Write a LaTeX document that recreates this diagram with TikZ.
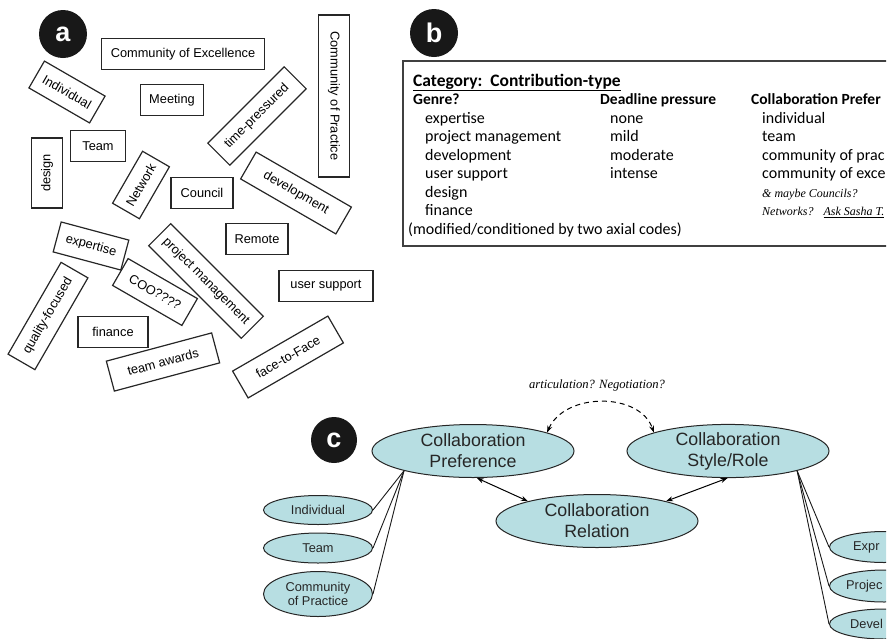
\documentclass[tikz,border=0pt]{standalone}
\usepackage{fontspec}
\setmainfont{Liberation Sans}
\newfontfamily\calfont{Carlito}
\newfontfamily\handfont{Liberation Serif}
\usetikzlibrary{shapes.geometric,arrows.meta}

\definecolor{codefill}{RGB}{183,222,226}
\definecolor{badgegray}{RGB}{24,24,24}

\tikzset{
  card/.style={draw=black!85, line width=1.2pt, inner sep=0pt, minimum height=31pt,
    font=\fontsize{12.8}{14}\selectfont},
  badge/.style={circle, fill=badgegray, text=white, inner sep=0pt, minimum size=48pt,
    font=\fontsize{27}{27}\selectfont\bfseries},
  bline/.style={anchor=base west, inner sep=0pt, font=\calfont\fontsize{16}{18}\selectfont},
  bhead/.style={bline, font=\calfont\bfseries\fontsize{15.5}{18}\selectfont},
  hand/.style={anchor=base west, inner sep=0pt, font=\handfont\itshape\fontsize{12}{14}\selectfont},
  bigcode/.style={ellipse, draw=black!85, line width=1pt, fill=codefill, inner sep=0pt,
    minimum width=202pt, minimum height=53pt, align=center, text=black!85,
    font=\fontsize{17.8}{21}\selectfont},
  smallcode/.style={ellipse, draw=black!85, line width=1pt, fill=codefill, inner sep=0pt,
    minimum width=109pt, minimum height=30pt, align=center, text=black!85,
    font=\fontsize{12.8}{14.3}\selectfont},
  cuttext/.style={anchor=west, inner sep=0pt, text=black!85, font=\fontsize{12.8}{14}\selectfont},
  link/.style={line width=0.9pt, black!90},
  twoway/.style={line width=1pt, {Stealth[length=7pt,width=5pt]}-{Stealth[length=7pt,width=5pt]}}
}

\begin{document}
\begin{tikzpicture}[x=1pt,y=-1pt]

\useasboundingbox (0,0) rectangle (889,638);
\clip (0,0) rectangle (886,638);

% panel a: the loose cards
\node[badge] (tag a) at (63,34) {a};

\node[card, minimum width=163] (excellence) at (183,54) {Community of Excellence};
\node[card, minimum width=70, rotate=-30] (individual) at (67,92) {Individual};
\node[card, minimum width=63] (meeting) at (172,100) {Meeting};
\node[card, minimum width=108, rotate=45] (timepressured) at (257,116) {time-pressured};
\node[card, minimum width=162, rotate=-90] (practice) at (334,96) {Community of Practice};
\node[card, minimum width=55] (team) at (98,146) {Team};
\node[card, minimum width=70, rotate=90] (design) at (47,173) {design};
\node[card, minimum width=60, rotate=60] (network) at (141,185) {Network};
\node[card, minimum width=62] (council) at (202,193) {Council};
\node[card, minimum width=110, rotate=-30] (development) at (296,193) {development};
\node[card, minimum width=70, rotate=-15] (expertise) at (91,246) {expertise};
\node[card, minimum width=62] (remote) at (257,239) {Remote};
\node[card, minimum width=131, rotate=-45] (projectmgmt) at (206,281) {project management};
\node[card, minimum width=94] (usersupport) at (326,286) {user support};
\node[card, minimum width=106, rotate=60] (quality) at (48,316) {quality-focused};
\node[card, minimum width=80, rotate=-30] (coo) at (155,292) {COO????};
\node[card, minimum width=70] (finance) at (113,332) {finance};
\node[card, minimum width=109, rotate=15] (awards) at (163,362) {team awards};
\node[card, minimum width=110, rotate=30] (facetoface) at (288,357) {face-to-Face};

% panel b: the category sheet
\node[badge] (tag b) at (434,33) {b};
\draw[line width=1.4pt, black!75] (403,61) rectangle (900,246);

\node[bhead, font=\calfont\bfseries\fontsize{17.5}{19}\selectfont] (category) at (413,86)
  {\underline{Category:\ \ Contribution-type}};

\node[bhead] (genre) at (413,104.5) {Genre?};
\node[bline] (genre 1) at (425,123) {expertise};
\node[bline] (genre 2) at (425,141.5) {project management};
\node[bline] (genre 3) at (425,160) {development};
\node[bline] (genre 4) at (425,178.5) {user support};
\node[bline] (genre 5) at (425,197) {design};
\node[bline] (genre 6) at (425,215.5) {finance};
\node[bline] (modified) at (408,234) {(modified/conditioned by two axial codes)};

\node[bhead] (deadline) at (600,104.5) {Deadline pressure};
\node[bline] (deadline 1) at (610,123) {none};
\node[bline] (deadline 2) at (610,141.5) {mild};
\node[bline] (deadline 3) at (610,160) {moderate};
\node[bline] (deadline 4) at (610,178.5) {intense};

\node[bhead] (prefer) at (751,104.5) {Collaboration Prefer};
\node[bline] (prefer 1) at (762,123) {individual};
\node[bline] (prefer 2) at (762,141.5) {team};
\node[bline] (prefer 3) at (762,160) {community of prac};
\node[bline] (prefer 4) at (762,178.5) {community of exce};
\node[hand] (note 1) at (762,197) {\& maybe Councils?};
\node[hand] (note 2) at (762,215.5) {Networks?\hspace{10pt}\underline{Ask Sasha T.}};

% panel c: the axial codes
\node[badge, minimum size=46pt] (tag c) at (334,440) {c};

\node[bigcode] (pref) at (473,451) {Collaboration\\Preference};
\node[bigcode] (style) at (728,451) {Collaboration\\Style/Role};
\node[bigcode] (rel) at (597,521) {Collaboration\\Relation};

\node[smallcode, minimum height=29pt] (c indiv) at (318,510) {Individual};
\node[smallcode] (c team) at (318,548) {Team};
\node[smallcode, minimum height=45pt] (c cop) at (318,594) {Community\\of Practice};

\node[smallcode, minimum height=31pt] (c expr) at (884,547) {};
\node[smallcode, minimum height=32pt] (c proj) at (884,586) {};
\node[smallcode, minimum height=30pt] (c devel) at (884,624) {};
\node[cuttext] (expr text) at (853,547) {Expr};
\node[cuttext] (proj text) at (846,586) {Projec};
\node[cuttext] (devel text) at (850,624) {Devel};

\draw[link] (pref.196) -- (c indiv.east);
\draw[link] (pref.196) -- (c team.east);
\draw[link] (pref.196) -- (c cop.east);

\draw[link] (style.-16) -- (c expr.west);
\draw[link] (style.-16) -- (c proj.west);
\draw[link] (style.-16) -- (c devel.west);

\draw[twoway] (pref.-82) -- (rel.164);
\draw[twoway] (style.-91) -- (rel.16);

\draw[twoway, dash pattern=on 5pt off 4pt] (pref.14) ..
    controls (565,392) and (640,392)
    .. (style.166);
\node[hand, anchor=center, font=\handfont\itshape\fontsize{12.6}{14}\selectfont] (articulation) at (597,385)
  {articulation? Negotiation?};

\end{tikzpicture}
\end{document}
